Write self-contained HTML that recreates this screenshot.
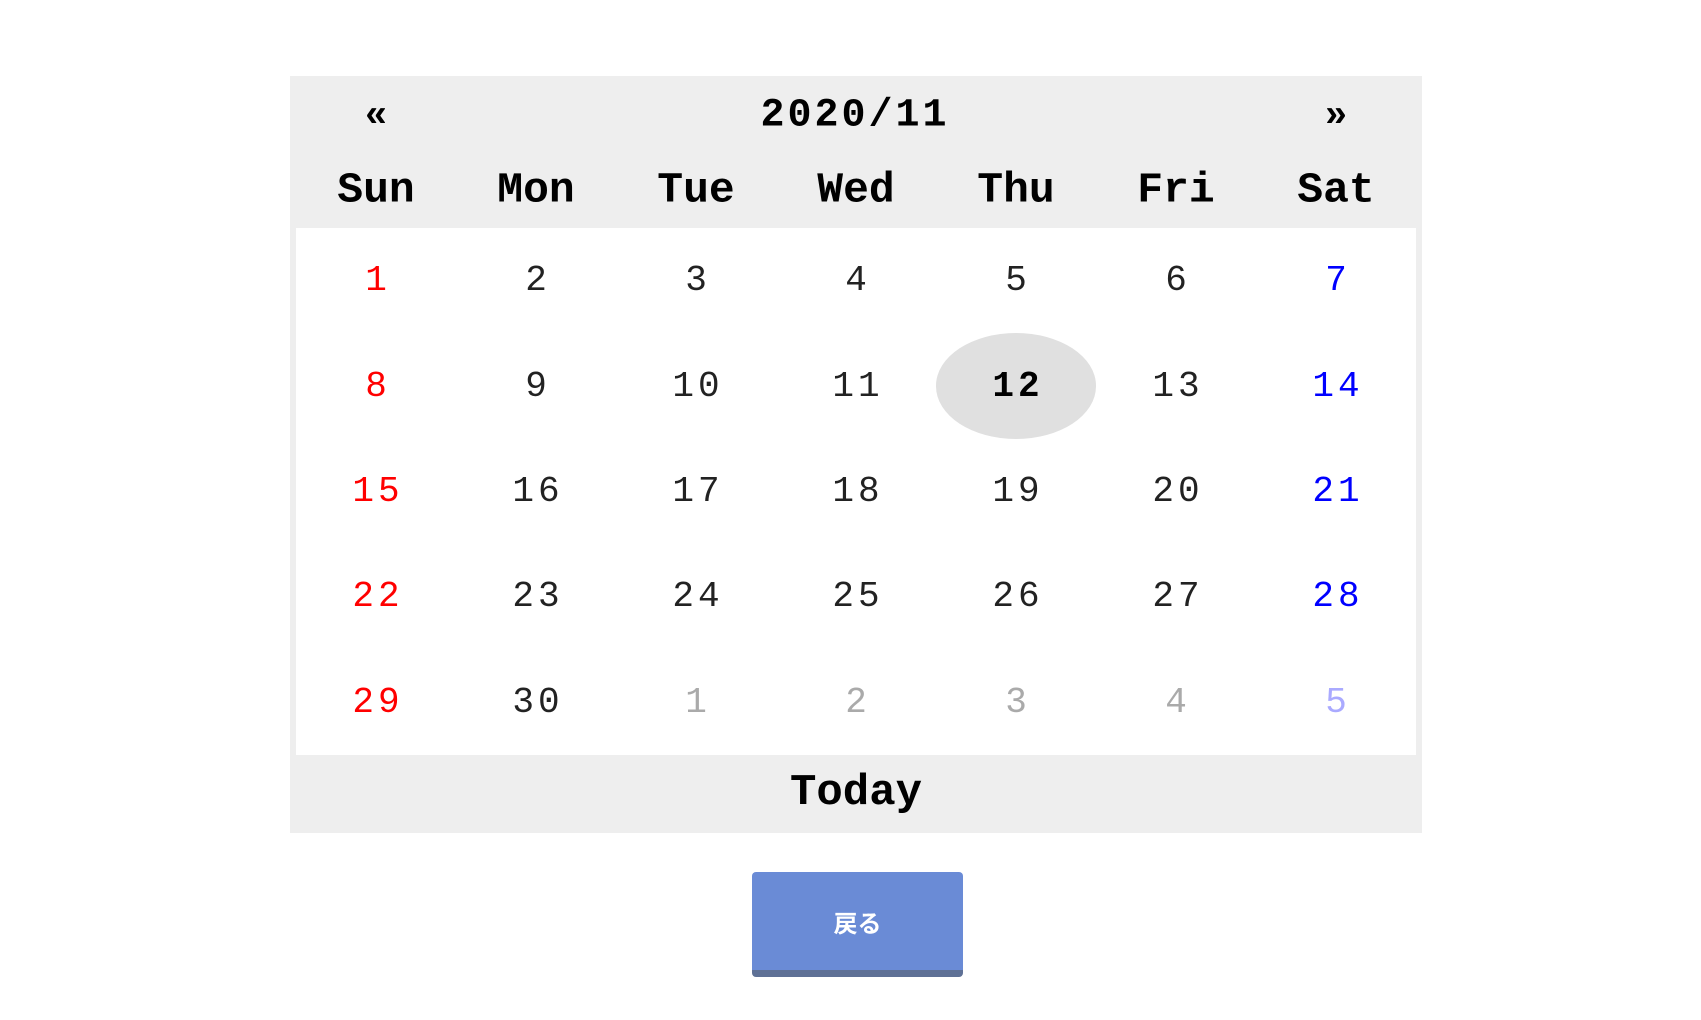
<!DOCTYPE html>
<html><head><meta charset="utf-8"><style>
body{margin:0;width:1701px;height:1020px;background:#fff;position:relative;overflow:hidden;font-family:"Liberation Mono","Noto Sans CJK JP",monospace}
#panel{position:absolute;left:290px;top:76px;width:1132px;height:757px;background:#eeeeee}
#body{position:absolute;left:296px;top:228px;width:1120px;height:527px;background:#fff}
.t{position:absolute;transform:translate(-50%,-50%);white-space:nowrap}
.b{font-weight:bold}
.cell{position:absolute;width:160px;height:105.4px;display:flex;align-items:center;justify-content:center;font-size:36px;letter-spacing:4px;text-indent:4px;color:#222}
.today{background:#e0e0e0;border-radius:50%;font-weight:bold;color:#000}
#btn{position:absolute;left:752px;top:872px;width:211px;height:105px;background:#6a8bd6;border-radius:4px;border-bottom:7px solid #5f7196;box-sizing:border-box;color:#fff;font-family:"Noto Sans CJK JP",sans-serif;font-weight:bold;font-size:24px;display:flex;align-items:center;justify-content:center}
</style></head><body>
<div id="panel"></div>
<div class="t b" style="left:376px;top:116px;font-size:38px">«</div>
<div class="t b" style="left:855px;top:116px;font-size:40px;letter-spacing:3px">2020/11</div>
<div class="t b" style="left:1336px;top:116px;font-size:38px">»</div>
<div id="body"></div>
<div class="t b" style="left:856px;top:793px;font-size:44px">Today</div>
<div id="btn">戻る</div>
<script>
const weekdays=["Sun","Mon","Tue","Wed","Thu","Fri","Sat"];
const days=[1,2,3,4,5,6,7,8,9,10,11,12,13,14,15,16,17,18,19,20,21,22,23,24,25,26,27,28,29,30,1,2,3,4,5];
const currentMonthCount=30;
const todayIndex=11;
weekdays.forEach((w,i)=>{
  const d=document.createElement('div');
  d.className='t b';
  d.style.left=(376+i*160)+'px';d.style.top='190px';d.style.fontSize='43px';
  d.textContent=w;
  
  
  document.body.appendChild(d);
});
days.forEach((n,i)=>{
  const c=i%7,r=Math.floor(i/7);
  const d=document.createElement('div');
  d.className='cell'+(i===todayIndex?' today':'');
  d.style.left=(296+c*160)+'px';d.style.top=(228+r*105.4)+'px';
  const other=i>=currentMonthCount;
  let col='#222';
  if(c===0)col='#ff0000';
  if(c===6)col=other?'#aaaaff':'#0000ff';
  else if(other)col='#aaaaaa';
  if(i===todayIndex)col='#000';
  d.style.color=col;
  d.textContent=n;
  
  
  document.body.appendChild(d);
});
</script>
</body></html>
